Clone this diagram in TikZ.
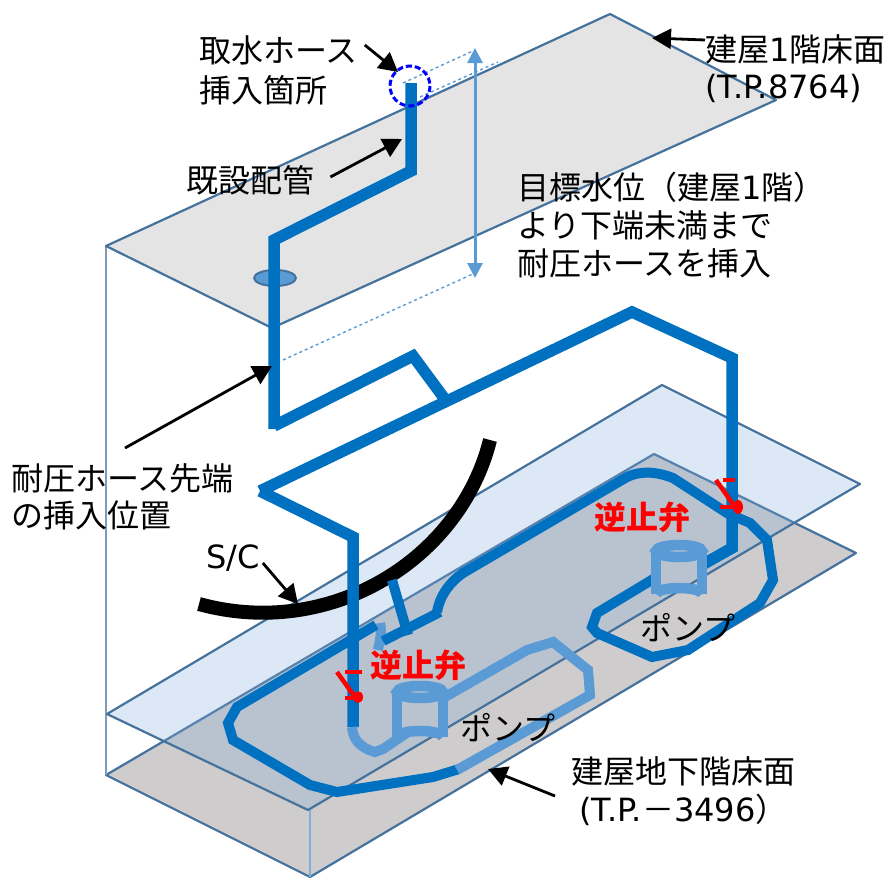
\documentclass[tikz,border=0pt]{standalone}
\usepackage{fontspec}
\setmainfont{DejaVu Sans}
\newfontfamily\cjk{Noto Sans CJK JP}
\usetikzlibrary{arrows.meta}
\definecolor{pipedarkcol}{RGB}{0,112,192}
\definecolor{pipelightcol}{RGB}{91,155,213}
\definecolor{edgecol}{RGB}{68,114,157}
\tikzset{
	floor/.style={draw=edgecol, line width=2.2pt, line join=round},
	pipedark/.style={draw=pipedarkcol, line width=10pt},
	pipewide/.style={draw=pipedarkcol, line width=11.5pt},
	pipelight/.style={draw=pipelightcol, line width=10pt},
	pointer/.style={draw=black, line width=2.8pt, -{Triangle[length=19pt,width=20pt]}},
	label/.style={anchor=west, inner sep=0pt, font=\fontsize{32}{32}\selectfont\cjk},
	valvelabel/.style={anchor=center, inner sep=0pt, text=red, font=\fontsize{32}{32}\selectfont\cjk\bfseries},
	valve/.style={draw=red, line width=4.5pt},
	guide/.style={draw=pipelightcol, line width=1.4pt, dashed}
}
\begin{document}
\begin{tikzpicture}[x=1pt,y=-1pt]
		\useasboundingbox (0, 0) rectangle (886, 878);
		%%%%% FLOORS %%%%%
		\draw[floor, fill={rgb,255:red,207;green,204;blue,205}] (106, 775) -- (654, 454) -- (856, 553) -- (310, 877) -- cycle;
		\draw[edgecol!70, line width=1.4pt] (106, 246) -- (106, 775);
		\draw[floor, fill={rgb,255:red,130;green,173;blue,219}, fill opacity=0.28] (107, 714) -- (662, 385) -- (860, 484) -- (308, 810) -- cycle;
		\draw[pipelightcol!80, line width=1.4pt] (310, 810) -- (310, 877);
		\draw[floor, fill={rgb,255:red,228;green,228;blue,228}] (106, 246) -- (610, 14) -- (776, 100) -- (272, 328) -- cycle;
		
		%%%%% GUIDES %%%%%
		\draw[guide] (403, 83) -- (475, 50);
		\draw[guide] (420, 97) -- (498, 62);
		\draw[guide] (272, 365) -- (475, 273);
		\draw[pipelightcol, line width=3pt, {Triangle[length=15pt,width=15pt]}-{Triangle[length=15pt,width=15pt]}] (475, 48) -- (475, 278);
		
		%%%%% PIPES, UPPER %%%%%
		\draw[fill=pipelightcol, draw=edgecol, line width=2pt] (275, 278) ellipse (21 and 8);
		\draw[line width=14pt, black] (199, 604) .. controls (330, 640) and (460, 560) .. (490, 440);
		\draw[pipewide] (411, 83) -- (411, 171) -- (274, 240) -- (274, 429);
		\draw[pipewide] (274, 426) -- (413, 356) -- (447, 402);
		\draw[pipewide] (260, 491) -- (632, 312) -- (732, 358) -- (732, 548) -- (700, 566);
		\draw[pipewide] (260, 491) -- (353, 537) -- (353, 727);
		\draw[pipedark] (392, 580) -- (408, 635);
		
		%%%%% PIPES, RING %%%%%
		\draw[pipelight] (380, 623) .. controls (382, 632) and (380, 640) .. (378, 650);
		\draw[pipedark] (383, 641) -- (440, 612);
		\draw[pipedark] (437, 612) .. controls (440, 595) and (450, 582) .. (463, 573) -- (627, 477) .. controls (640, 471) and (655, 471) .. (673, 478) -- (727, 513) -- (750, 523) -- (767, 540) -- (773, 580) -- (760, 603) -- (688, 650) -- (652, 657) -- (597, 633) -- (592, 627) -- (597, 613) -- (655, 578);
		\draw[pipedark] (376, 625) -- (237, 707) -- (228, 723) -- (233, 740) -- (310, 785) -- (337, 792) -- (433, 777) -- (459, 769);
		\draw[pipelight] (457, 770) -- (590, 695) -- (588, 670) -- (553, 642) -- (527, 650) -- (445, 697);
		\draw[pipelight] (352, 727) .. controls (353, 738) and (358, 747) .. (375, 752) -- (383, 749) -- (411, 730);
		
		%%%%% PUMPS %%%%%
		\foreach \pumpx/\pumpy/\pumpdrop in {420/692/45, 679/551/43}{
			\draw[pipelight, line width=10.5pt] (\pumpx-23, \pumpy) -- (\pumpx-23, \pumpy+\pumpdrop);
			\draw[pipelight, line width=10.5pt] (\pumpx+23, \pumpy) -- (\pumpx+23, \pumpy+\pumpdrop);
			\draw[pipelight, line width=10.5pt] (\pumpx, \pumpy) ellipse (23 and 6);
			\draw[pipelight, line width=10.5pt] (\pumpx-23, \pumpy+\pumpdrop) arc (180:360:23 and 6);
		}
		
		%%%%% VALVES %%%%%
		\draw[valve] (345, 672) -- (362, 672);
		\draw[valve] (337, 672) -- (357, 700);
		\draw[valve] (345, 698) -- (358, 698);
		\draw[fill=red, draw=none] (358, 697) ellipse (5 and 6);
		\draw[valve] (723, 480) -- (735, 480);
		\draw[valve] (716, 480) -- (735, 507);
		\draw[valve] (720, 507) -- (737, 507);
		\draw[fill=red, draw=none] (738, 507) ellipse (5 and 7);
		\node[valvelabel] (valveleft) at (418, 665) {逆止弁};
		\node[valvelabel] (valveright) at (642, 517) {逆止弁};
		
		%%%%% LABELS %%%%%
		\node[label] (intakeone) at (199, 50) {取水ホース};
		\node[label] (intaketwo) at (199, 90) {挿入箇所};
		\draw[blue, line width=3pt, dash pattern=on 6pt off 3pt] (410, 86) circle (20);
		\node[label] (existing) at (186, 180) {既設配管};
		\node[label] (topfloor) at (705, 49) {建屋{\fontfamily{\rmdefault}\selectfont 1}階床面};
		\node[label] (toplevel) at (705, 88) {\fontfamily{\rmdefault}\selectfont (T.P.8764)};
		\node[label] (goalone) at (517, 187) {目標水位（建屋{\fontfamily{\rmdefault}\selectfont 1}階）};
		\node[label] (goaltwo) at (517, 225) {より下端未満まで};
		\node[label] (goalthree) at (517, 263) {耐圧ホースを挿入};
		\node[label] (tipone) at (11, 478) {耐圧ホース先端};
		\node[label] (tiptwo) at (11, 515) {の挿入位置};
		\node[label] (sc) at (206, 558) {\fontfamily{\rmdefault}\selectfont S/C};
		\node[label] (pumpright) at (640, 628) {ポンプ};
		\node[label] (pumpleft) at (460, 728) {ポンプ};
		\node[label] (lowfloor) at (571, 771) {建屋地下階床面};
		\node[label] (lowlevel) at (579, 810) {\fontfamily{\rmdefault}\selectfont (T.P.{\cjk －}3496{\cjk ）}};
		
		%%%%% POINTERS %%%%%
		\coordinate (intaketip) at (398, 72);
		\coordinate (existingtip) at (402, 139);
		\coordinate (toptip) at (652, 38);
		\coordinate (tiptip) at (272, 366);
		\coordinate (sctip) at (298, 604);
		\coordinate (lowtip) at (488, 769);
		\draw[pointer] ([shift={(7, -5)}]intakeone.east) -- (intaketip);
		\draw[pointer] ([shift={(16, -3)}]existing.east) -- (existingtip);
		\draw[pointer] ([shift={(0, -9)}]topfloor.west) -- (toptip);
		\draw[pointer] ([shift={(114, -30)}]tipone.west) -- (tiptip);
		\draw[pointer] ([shift={(3, 5)}]sc.east) -- (sctip);
		\draw[pointer] ([shift={(-16, 25)}]lowfloor.west) -- (lowtip);
	\end{tikzpicture}
\end{document}
